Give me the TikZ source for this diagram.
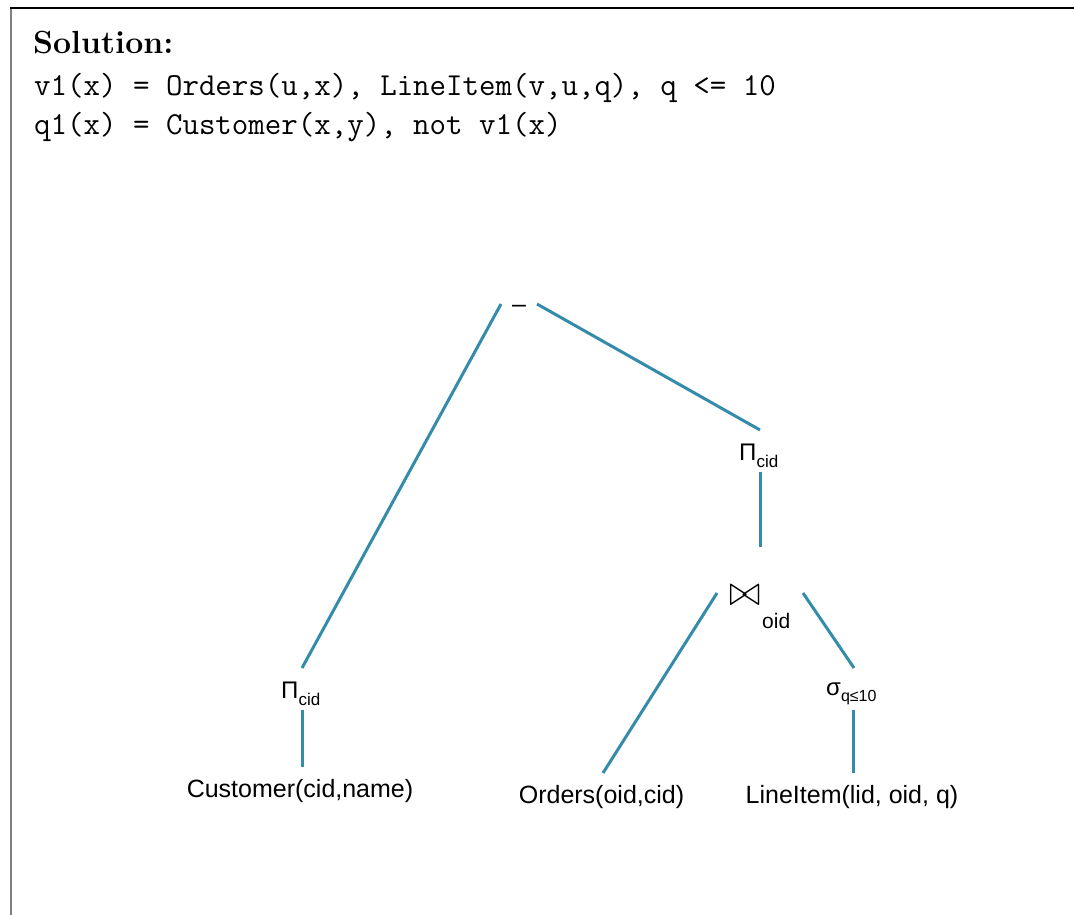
\documentclass[tikz,border=0pt]{standalone}
\usepackage{graphicx}
\usepackage{fontspec}
\newfontfamily\arial{Liberation Sans}
\usetikzlibrary{calc}
\definecolor{edgecol}{RGB}{52,140,170}
\definecolor{framegray}{RGB}{128,128,128}
\tikzset{
  op/.style={inner sep=0pt, anchor=base west, font=\arial\fontsize{24}{24}\selectfont},
  rel/.style={inner sep=0pt, anchor=base, font=\arial\fontsize{25}{25}\selectfont},
  treeedge/.style={draw=edgecol, line width=3pt},
  header/.style={inner sep=0pt, anchor=base west, font=\fontsize{32}{32}\selectfont},
}
\newcommand{\opsub}[3]{\raisebox{-#1}{\fontsize{#2}{#2}\selectfont #3}}
\begin{document}
\begin{tikzpicture}[x=1pt, y=-1pt]
\useasboundingbox (0,0) rectangle (1074,915);
% frame
\draw[framegray, line width=2pt] (11,8) -- (11,915);
\draw[black, line width=2pt] (10,8) -- (1074,8);

% header
\node[header] (title) at (33,54) {\bfseries Solution:};
\node[header] (view) at (34,96) {\ttfamily v1(x) = Orders(u,x), LineItem(v,u,q), q <= 10};
\node[header] (query) at (34,135) {\ttfamily q1(x) = Customer(x,y), not v1(x)};

% operator tree
\node[rel, font=\arial\fontsize{25}{25}\selectfont] (minus) at (519,312) {–};
\node[op] (pcidR) at (739,460) {Π\opsub{7pt}{17}{cid}};
\node[op] (join) at (729,605) {\resizebox{31pt}{20pt}{$\bowtie$}};
\node[op, font=\arial\fontsize{21}{21}\selectfont] (joinsub) at (762,628) {oid};
\node[op] (sigma) at (826,695) {σ\opsub{6pt}{16}{q≤10}};
\node[op] (pcidL) at (281,698) {Π\opsub{7pt}{17}{cid}};
\node[rel] (customer) at (300,797) {Customer(cid,name)};
\node[rel] (orders) at (601.5,803) {Orders(oid,cid)};
\node[rel] (lineitem) at (852,803) {LineItem(lid, oid, q)};

% connectors
\draw[treeedge] ($(minus.base)+(-18,-8)$) -- ($(pcidL.base west)+(21,-30)$);
\draw[treeedge] ($(minus.base)+(18,-8)$) -- ($(pcidR.base west)+(21,-30)$);
\draw[treeedge] ($(pcidR.base west)+(21,12)$) -- ($(join.base west)+(31,-58)$);
\draw[treeedge] ($(join.base west)+(-12,-12)$) -- ($(orders.base)+(1.5,-30)$);
\draw[treeedge] ($(join.base west)+(74,-12)$) -- ($(sigma.base west)+(28,-27)$);
\draw[treeedge] ($(sigma.base west)+(27.5,15)$) -- ($(lineitem.base)+(1.5,-30)$);
\draw[treeedge] ($(pcidL.base west)+(21,12)$) -- ($(customer.base)+(2,-30)$);
\end{tikzpicture}
\end{document}
